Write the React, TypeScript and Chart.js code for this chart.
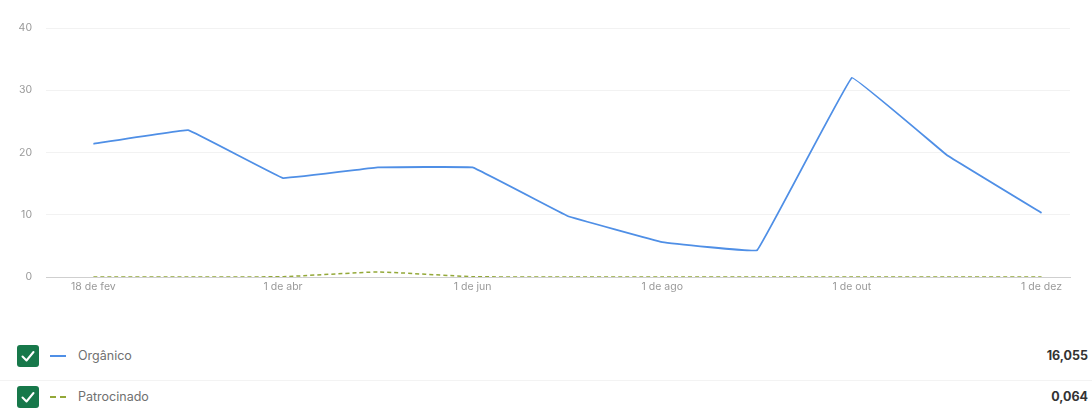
import React, { useEffect, useRef } from "react";
import { Chart, registerables } from "chart.js";

Chart.register(...registerables);

const xPositions = [0, 1, 2, 3, 4, 5, 6, 7, 8, 9, 10];
const tickLabels: Record<number, string> = {
  0: "18 de fev",
  2: "1 de abr",
  4: "1 de jun",
  6: "1 de ago",
  8: "1 de out",
  10: "1 de dez",
};
const organico = [21.4, 23.6, 15.9, 17.6, 17.6, 9.8, 5.6, 4.3, 32.0, 19.6, 10.3];
const patrocinado = [0, 0, 0.05, 0.8, 0.05, 0, 0, 0, 0, 0, 0];
const yTicks = [0, 10, 20, 30, 40];

const legendRows = [
  { name: "Orgânico", total: "16,055", color: "#4f8fe6", dashed: false },
  { name: "Patrocinado", total: "0,064", color: "#93a838", dashed: true },
];

const FONT = "Inter, Roboto, 'Noto Sans', sans-serif";

export default function App() {
  const canvasRef = useRef<HTMLCanvasElement | null>(null);

  useEffect(() => {
    document.body.style.margin = "0";
    const ctx = canvasRef.current!;
    const chart = new Chart(ctx, {
      type: "line",
      data: {
        datasets: [
          {
            label: "Patrocinado",
            data: xPositions.map((x, i) => ({ x, y: patrocinado[i] })),
            borderColor: "#93a838",
            borderWidth: 1.5,
            borderDash: [4, 3],
            pointRadius: 0,
            tension: 0.15,
            order: 1,
          },
          {
            label: "Orgânico",
            data: xPositions.map((x, i) => ({ x, y: organico[i] })),
            borderColor: "#4f8fe6",
            borderWidth: 1.8,
            pointRadius: 0,
            tension: 0.04,
            order: 2,
          },
        ],
      },
      options: {
        animation: false,
        responsive: false,
        maintainAspectRatio: false,
        layout: { padding: { top: 28, right: 22, left: 8, bottom: 0 } },
        plugins: { legend: { display: false }, tooltip: { enabled: false } },
        scales: {
          x: {
            type: "linear",
            min: -0.5,
            max: 10.3,
            afterBuildTicks: (scale: any) => {
              scale.ticks = Object.keys(tickLabels).map((k) => ({ value: Number(k) }));
            },
            afterFit: (scale: any) => {
              scale.height = 23;
            },
            ticks: {
              autoSkip: false,
              maxRotation: 0,
              padding: 4,
              color: "#999999",
              font: { family: FONT, size: 10.5 },
              callback: (v: any) => tickLabels[Number(v)] ?? "",
            },
            grid: { display: false, drawTicks: false },
            border: { display: true, color: "#cfcfcf", width: 1 },
          },
          y: {
            min: 0,
            max: 40,
            afterBuildTicks: (scale: any) => {
              scale.ticks = yTicks.map((v) => ({ value: v }));
            },
            afterFit: (scale: any) => {
              scale.width = 38;
            },
            ticks: {
              padding: 14,
              color: "#999999",
              font: { family: FONT, size: 10.5 },
            },
            grid: { color: "#f2f2f2", drawTicks: false, tickLength: 0 },
            border: { display: false },
          },
        },
      },
    } as any);
    return () => chart.destroy();
  }, []);

  return (
    <div style={{ position: "relative", width: 1092, height: 410, background: "#fff", fontFamily: FONT }}>
      <canvas ref={canvasRef} width={1092} height={300} style={{ position: "absolute", left: 0, top: 0 }} />
      <div style={{ position: "absolute", left: 0, top: 380, width: 1092, height: 1, background: "#f3f3f3" }} />
      {legendRows.map((r, i) => (
        <div
          key={r.name}
          style={{ position: "absolute", left: 0, top: 345 + i * 41, width: 1092, height: 22 }}
        >
          <div
            style={{
              position: "absolute",
              left: 17,
              top: 0,
              width: 22,
              height: 22,
              borderRadius: 3,
              background: "#17784a",
            }}
          >
            <svg width="22" height="22" viewBox="0 0 22 22">
              <path d="M5.5 11.5 L9.5 15.5 L16.5 7" stroke="#fff" strokeWidth="2" fill="none" strokeLinecap="round" strokeLinejoin="round" />
            </svg>
          </div>
          <div
            style={{
              position: "absolute",
              left: 50,
              top: 10,
              width: 16,
              height: 0,
              borderTop: r.dashed ? `2px dashed ${r.color}` : `2px solid ${r.color}`,
            }}
          />
          <div style={{ position: "absolute", left: 78, top: 3, fontSize: 12.5, color: "#707070", lineHeight: "16px" }}>
            {r.name}
          </div>
          <div
            style={{
              position: "absolute",
              right: 4,
              top: 3,
              fontSize: 12.5,
              fontWeight: 700,
              color: "#333",
              lineHeight: "16px",
            }}
          >
            {r.total}
          </div>
        </div>
      ))}
    </div>
  );
}
